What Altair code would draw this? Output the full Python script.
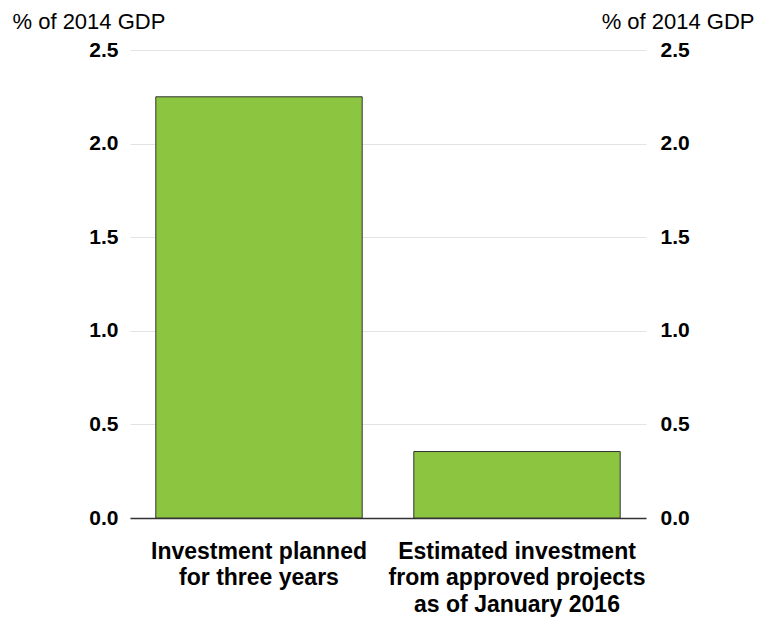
import altair as alt
import pandas as pd

categories = ["Investment planned|for three years",
              "Estimated investment|from approved projects|as of January 2016"]
values = [2.25, 0.355]
y_ticks = [0.0, 0.5, 1.0, 1.5, 2.0, 2.5]

df = pd.DataFrame({"cat": categories, "val": values})

FONT = "Liberation Sans"

base = alt.Chart(df)

bars = base.mark_bar(color="#8CC641", stroke="#333333", strokeWidth=1).encode(
    x=alt.X("cat:N", sort=categories, title=None,
            scale=alt.Scale(paddingInner=0.2, paddingOuter=0.1),
            axis=alt.Axis(labelExpr="split(datum.label, '|')", labelAngle=0,
                          labelFontSize=23, labelFontWeight="bold", labelFont=FONT,
                          labelColor="#000000", labelLineHeight=26.5, labelPadding=22,
                          labelLimit=0, ticks=False, domainColor="#333333",
                          domainWidth=1.5, labelBaseline="top")),
    y=alt.Y("val:Q", scale=alt.Scale(domain=[0, 2.5], nice=False),
            axis=alt.Axis(values=y_ticks, format=".1f", title="% of 2014 GDP",
                          titleAngle=0, titleAlign="left", titleX=-118, titleY=-22,
                          titleFont=FONT, titleFontSize=22, titleFontWeight="normal",
                          titleColor="#000000", titleBaseline="alphabetic",
                          labelFont=FONT, labelFontSize=21, labelFontWeight="bold",
                          labelColor="#000000", labelPadding=12, ticks=False,
                          domain=False, grid=True, gridColor="#e3e3e3", gridWidth=1)),
)

right = base.mark_bar(opacity=0).encode(
    x=alt.X("cat:N", sort=categories),
    y=alt.Y("val:Q", scale=alt.Scale(domain=[0, 2.5], nice=False),
            axis=alt.Axis(values=y_ticks, format=".1f", orient="right",
                          title="% of 2014 GDP",
                          titleAngle=0, titleAlign="right", titleX=108, titleY=-22,
                          titleFont=FONT, titleFontSize=22, titleFontWeight="normal",
                          titleColor="#000000", titleBaseline="alphabetic",
                          labelFont=FONT, labelFontSize=21, labelFontWeight="bold",
                          labelColor="#000000", labelPadding=14, ticks=False,
                          domain=False, grid=False)),
)

chart = alt.layer(bars, right).resolve_scale(y="independent").properties(
    width=516, height=468, autosize="none",
    padding={"left": 122, "top": 42, "right": 110, "bottom": 100},
).configure_view(stroke=None)

chart.save("out.html", embed_options={"renderer": "svg", "actions": False})
